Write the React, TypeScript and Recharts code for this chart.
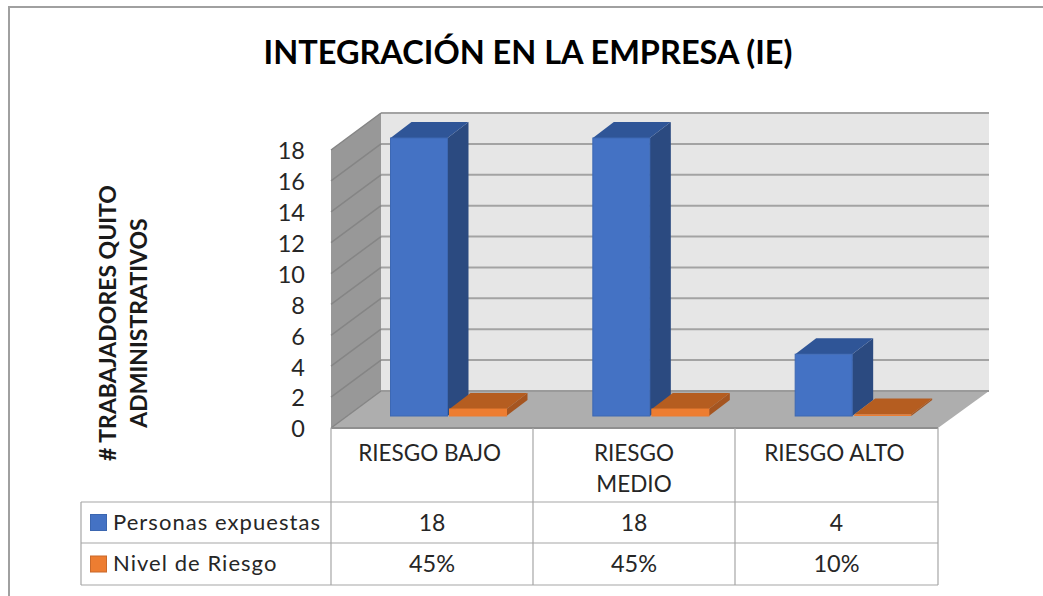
import React from "react";
import { BarChart, Bar, XAxis, YAxis, Customized } from "recharts";

const categories = ["RIESGO BAJO", "RIESGO MEDIO", "RIESGO ALTO"];
const categoryLines = [["RIESGO BAJO"], ["RIESGO", "MEDIO"], ["RIESGO ALTO"]];
const personas = [18, 18, 4];
const nivel = [0.45, 0.45, 0.1];
const nivelLabels = ["45%", "45%", "10%"];
const yTicks = [0, 2, 4, 6, 8, 10, 12, 14, 16, 18];
const seriesNames = ["Personas expuestas", "Nivel de Riesgo"];
const yTitle = ["# TRABAJADORES QUITO", "ADMINISTRATIVOS"];
const title = "INTEGRACIÓN EN LA EMPRESA (IE)";

const data = categories.map((category, i) => ({ category, personas: personas[i], nivel: nivel[i] }));

const FONT = "Lato, Carlito, sans-serif";
const L = 331, R = 938, T = 150, B = 428;
const DX = 50, DY = -37;
const yOf = (v: number) => B - (v / 18) * (B - T);
const colX = [331, 533, 735, 938];
const rowY = [428, 502, 543, 585];
const colMid = (i: number) => (colX[i] + colX[i + 1]) / 2;

const GRID = "#a3a3a3";
const TABLE = "#a6a6a6";
const TEXT = "#262626";

function Walls() {
  return (
    <g>
      <polygon points={`${L + DX},${T + DY} ${R + DX + 1},${T + DY} ${R + DX + 1},${B + DY} ${L + DX},${B + DY}`} fill="#e6e6e6" />
      <polygon points={`${L},${T} ${L + DX},${T + DY} ${L + DX},${B + DY} ${L},${B}`} fill="#989898" />
      <polygon points={`${L},${B} ${L + DX},${B + DY} ${R + DX + 1},${B + DY} ${R},${B}`} fill="#aeaeae" />
      {yTicks.map((t) => (
        <g key={t}>
          {t > 0 && <line x1={L + DX} x2={R + DX + 1} y1={yOf(t) + DY} y2={yOf(t) + DY} stroke={GRID} strokeWidth={2} />}
          <line x1={L} x2={L + DX} y1={yOf(t)} y2={yOf(t) + DY} stroke="#858585" strokeWidth={1.5} />
        </g>
      ))}
      <line x1={L + DX} x2={R + DX + 1} y1={B + DY} y2={B + DY} stroke="#9a9a9a" strokeWidth={2} />
      <line x1={L} x2={R} y1={B} y2={B} stroke="#8f8f8f" strokeWidth={2} />
    </g>
  );
}

function Overlay() {
  return (
    <g fontFamily={FONT}>
      <text x={528} y={64} textAnchor="middle" fontSize={32.5} fontWeight={700} fill="#000">{title}</text>
      {yTitle.map((line, i) => (
        <text key={line} transform={`translate(${116 + i * 31},323) rotate(-90)`} textAnchor="middle" fontSize={23} fontWeight={700} fill="#1a1a1a">{line}</text>
      ))}
      <polyline points="9,596 9,7 1043,7" fill="none" stroke="#a0a0a0" strokeWidth={2} />
      {colX.map((x) => (
        <line key={x} x1={x} x2={x} y1={rowY[0]} y2={rowY[3]} stroke={TABLE} strokeWidth={1.2} />
      ))}
      <line x1={81} x2={81} y1={rowY[1]} y2={rowY[3]} stroke={TABLE} strokeWidth={1.2} />
      {rowY.slice(1).map((y) => (
        <line key={y} x1={81} x2={R} y1={y} y2={y} stroke={TABLE} strokeWidth={1.2} />
      ))}
      <rect x={90.5} y={514.5} width={16} height={16} fill="#4472c4" stroke="#3b66b0" />
      <rect x={90.5} y={556} width={16} height={16} fill="#ed7d31" stroke="#c9692a" />
      {seriesNames.map((name, i) => (
        <text key={name} x={113} y={[530, 571][i]} fontSize={22} letterSpacing={1.05} fill={TEXT}>{name}</text>
      ))}
      {personas.map((v, i) => (
        <text key={i} x={colMid(i)} y={531} textAnchor="middle" fontSize={23} fill={TEXT}>{v}</text>
      ))}
      {nivelLabels.map((v, i) => (
        <text key={i} x={colMid(i)} y={572} textAnchor="middle" fontSize={23.5} fill={TEXT}>{v}</text>
      ))}
    </g>
  );
}

function Box3D(props: any) {
  const { x, y, width, height, front, top, side, edge } = props;
  const ox = 16, oy = -12, dx = 21, dy = -16;
  const x0 = x + ox, x1 = x0 + width, y0 = y + oy, y1 = y0 + height;
  return (
    <g>
      <polygon points={`${x1},${y0} ${x1 + dx},${y0 + dy} ${x1 + dx},${y1 + dy} ${x1},${y1}`} fill={side} />
      <polygon points={`${x0},${y0} ${x0 + dx},${y0 + dy} ${x1 + dx},${y0 + dy} ${x1},${y0}`} fill={top} />
      <rect x={x0} y={y0} width={width} height={height} fill={front} stroke={edge} strokeWidth={height > 3 ? 1 : 0} />
    </g>
  );
}

function CategoryTick(props: any) {
  const { x, payload } = props;
  const lines = categoryLines[payload.index] || [payload.value];
  const shift = payload.index === 1 ? -0.5 : -2.5;
  return (
    <g>
      {lines.map((line: string, i: number) => (
        <text key={line} x={x + shift} y={461 + i * 31} textAnchor="middle" fontSize={22.5} fontFamily={FONT} fill={TEXT}>{line}</text>
      ))}
    </g>
  );
}

export default function App() {
  return (
    <div style={{ position: "absolute", left: 0, top: 0, width: 1043, height: 596, background: "#fff", overflow: "hidden" }}>
      <BarChart
        width={1043}
        height={596}
        data={data}
        margin={{ top: T, right: 1043 - R, bottom: 0, left: L - 50 }}
        barCategoryGap="21.5%"
        barGap={2}
      >
        <Customized component={<Walls />} />
        <XAxis dataKey="category" height={596 - B} axisLine={false} tickLine={false} interval={0} tick={<CategoryTick />} />
        <YAxis
          width={50}
          domain={[0, 18]}
          ticks={yTicks}
          interval={0}
          axisLine={false}
          tickLine={false}
          tickMargin={20}
          tick={{ fontSize: 23.5, fontFamily: FONT, fill: TEXT, dy: 1 }}
        />
        <Bar dataKey="personas" isAnimationActive={false} shape={<Box3D front="#4472c4" top="#2f5597" side="#2b4a80" edge="#3d68b3" />} />
        <Bar dataKey="nivel" isAnimationActive={false} shape={<Box3D front="#ed7d31" top="#b55d20" side="#a55520" edge="#ed7d31" />} />
        <Customized component={<Overlay />} />
      </BarChart>
    </div>
  );
}
